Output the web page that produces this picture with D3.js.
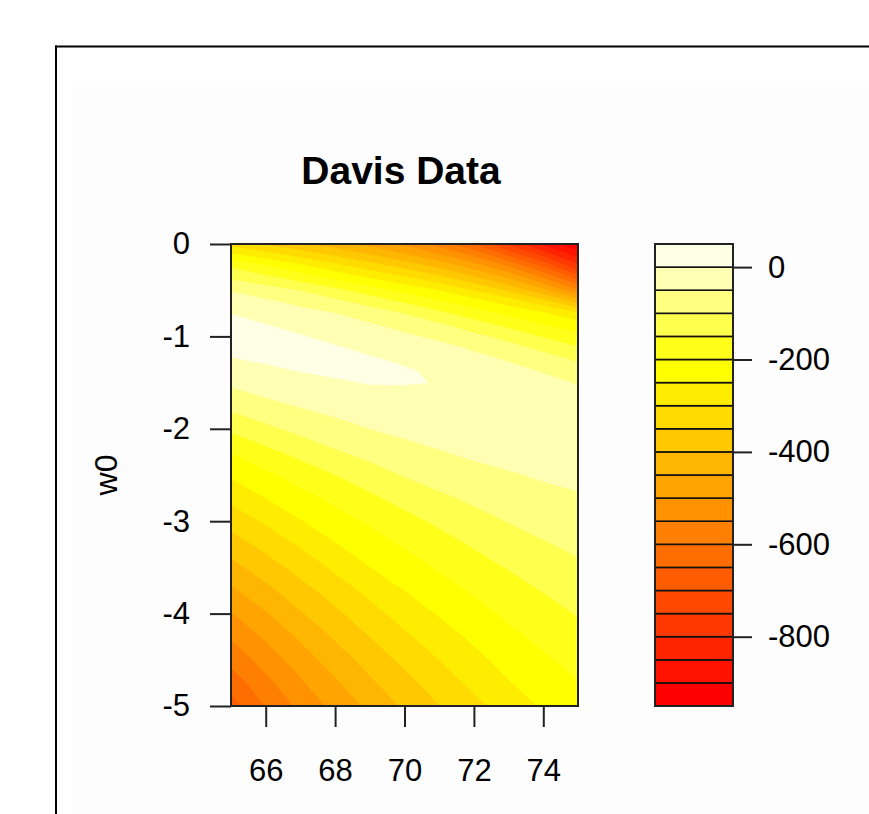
<!DOCTYPE html>
<html><head><meta charset="utf-8">
<script src="https://cdn.jsdelivr.net/npm/d3@7"></script>
<style>
body{margin:0;background:#fff}
svg{display:block}
text{font-family:"Liberation Sans",Arial,Helvetica,sans-serif;fill:#000}
</style>
</head><body>
<svg id="c" width="869" height="814"></svg>
<script>
// ---- data ----
const xValues = [65, 66, 67, 68, 69, 70, 71, 72, 73, 74, 75];
const yValues = [0, -0.25, -0.5, -0.625, -0.75, -0.875, -1, -1.125, -1.25, -1.375, -1.5,
                 -1.625, -1.75, -2, -2.25, -2.5, -2.75, -3, -3.25, -3.5, -3.75, -4,
                 -4.25, -4.5, -4.75, -5];
// z values: one row per yValues entry, one column per xValues entry
const zRows = [
  [-317, -358, -394, -429, -468, -514, -572, -650, -765, -865, -945],
  [-154, -189, -234, -278, -321, -361, -408, -468, -545, -650, -780],
  [ -53,  -78, -103, -138, -176, -215, -253, -303, -360, -440, -545],
  [ -26,  -42,  -62,  -88, -119, -156, -193, -230, -272, -330, -415],
  [  -1,  -20,  -36,  -50,  -76, -102, -140, -177, -212, -245, -292],
  [  11,    1,  -16,  -31,  -45,  -68,  -93, -128, -164, -198, -229],
  [  15,   12,    3,  -12,  -27,  -42,  -61,  -87, -118, -154, -187],
  [  10,   14,   11,    4,   -9,  -24,  -35,  -56,  -83, -112, -146],
  [  -3,    6,   11,   10,    4,   -6,  -18,  -36,  -54,  -80, -107],
  [ -22,  -10,    1,    7,    7,    4,   -7,  -22,  -36,  -53,  -79],
  [ -42,  -27,  -15,   -5,    2,    2,   -1,  -12,  -25,  -38,  -53],
  [ -63,  -44,  -31,  -19,  -11,   -8,   -2,   -8,  -17,  -27,  -39],
  [ -86,  -65,  -47,  -34,  -24,  -18,   -5,   -7,  -13,  -20,  -30],
  [-141, -111,  -86,  -67,  -50,  -39,  -23,  -17,  -15,  -16,  -21],
  [-199, -164, -134, -105,  -84,  -65,  -53,  -40,  -30,  -25,  -22],
  [-243, -211, -179, -151, -122,  -97,  -80,  -66,  -55,  -44,  -35],
  [-288, -250, -218, -188, -160, -133, -109,  -91,  -76,  -65,  -56],
  [-331, -293, -253, -221, -193, -166, -141, -117,  -98,  -84,  -73],
  [-374, -334, -294, -253, -222, -195, -169, -145, -123, -104,  -90],
  [-417, -374, -332, -291, -251, -223, -195, -170, -147, -126, -108],
  [-460, -414, -369, -327, -286, -250, -221, -194, -169, -148, -128],
  [-503, -454, -405, -361, -319, -279, -246, -217, -191, -168, -147],
  [-544, -492, -442, -394, -350, -309, -273, -241, -212, -188, -166],
  [-587, -529, -475, -426, -380, -338, -300, -264, -232, -207, -184],
  [-629, -565, -507, -458, -409, -366, -326, -288, -253, -225, -202],
  [-672, -597, -538, -485, -438, -392, -351, -314, -277, -244, -221]
];
const levels = [-950, -900, -850, -800, -750, -700, -650, -600, -550, -500, -450,
                -400, -350, -300, -250, -200, -150, -100, -50, 0, 50];
const xTicks = [66, 68, 70, 72, 74];
const yTicks = [0, -1, -2, -3, -4, -5];
const keyTicks = [0, -200, -400, -600, -800];
const title = "Davis Data";
const yLabel = "w0";

// heat.colors(20)
const palette = ["#FF0000","#FF1200","#FF2400","#FF3700","#FF4900","#FF5B00","#FF6D00",
  "#FF8000","#FF9200","#FFA400","#FFB600","#FFC800","#FFDB00","#FFED00","#FFFF00",
  "#FFFF1A","#FFFF4D","#FFFF80","#FFFFB3","#FFFFE6"];

// ---- layout ----
const svg = d3.select("#c");
const P = {l: 231, r: 578, t: 244, b: 706};
const K = {l: 655, r: 733};

// frame
svg.append("rect").attr("x", 73).attr("y", 87).attr("width", 869).attr("height", 814).attr("fill", "#fdfdfd");
svg.append("line").attr("x1", 55).attr("x2", 869).attr("y1", 46.5).attr("y2", 46.5).attr("stroke", "#000").attr("stroke-width", 2);
svg.append("line").attr("x1", 56).attr("x2", 56).attr("y1", 45.5).attr("y2", 814).attr("stroke", "#000").attr("stroke-width", 2);

const x = d3.scaleLinear().domain([65, 75]).range([P.l, P.r]);
const y = d3.scaleLinear().domain([-5, 0]).range([P.b, P.t]);

const nx = xValues.length, ny = yValues.length;
// grid index -> data position (grid values sit at index + 0.5 in d3.contours space)
const gx = d3.scaleLinear().domain(xValues.map((d, i) => i + 0.5)).range(xValues.map(x));
const gy = d3.scaleLinear().domain(yValues.map((d, i) => i + 0.5)).range(yValues.map(y));
const proj = d3.geoTransform({point(px, py) { this.stream.point(gx(px), gy(py)); }});
const path = d3.geoPath(proj);

const flat = zRows.flat();
const bands = d3.contours().size([nx, ny]).thresholds(levels.slice(0, -1))(flat);

svg.append("clipPath").attr("id", "clip").append("rect")
  .attr("x", P.l).attr("y", P.t).attr("width", P.r - P.l).attr("height", P.b - P.t);

svg.append("g").attr("clip-path", "url(#clip)")
  .selectAll("path").data(bands).join("path")
  .attr("d", path)
  .attr("fill", (d) => palette[levels.indexOf(d.value)])
  .attr("stroke", (d) => palette[levels.indexOf(d.value)])
  .attr("stroke-width", 0.6);

svg.append("rect").attr("x", P.l).attr("y", P.t).attr("width", P.r - P.l).attr("height", P.b - P.t)
  .attr("fill", "none").attr("stroke", "#222").attr("stroke-width", 2);

// axes
const fmt = (d) => String(d);
const xAxis = svg.append("g").attr("transform", `translate(0,${P.b})`)
  .call(d3.axisBottom(x).tickValues(xTicks).tickSize(21).tickPadding(32).tickFormat(fmt));
const yAxis = svg.append("g").attr("transform", `translate(${P.l},0)`)
  .call(d3.axisLeft(y).tickValues(yTicks).tickSize(21).tickPadding(20).tickFormat(fmt));
[xAxis, yAxis].forEach(g => {
  g.select(".domain").remove();
  g.selectAll(".tick line").attr("stroke", "#222").attr("stroke-width", 2);
  g.selectAll("text").attr("font-size", 31).attr("fill", "#111");
});

// title and label
svg.append("text").attr("x", 401).attr("y", 184).attr("text-anchor", "middle")
  .attr("font-size", 39).attr("font-weight", "bold").text(title);
svg.append("text").attr("transform", `translate(117,${(P.t + P.b) / 2}) rotate(-90)`)
  .attr("text-anchor", "middle").attr("font-size", 32).attr("fill", "#111").text(yLabel);

// colour key
const ky = d3.scaleLinear().domain([levels[0], levels[levels.length - 1]]).range([P.b, P.t]);
svg.append("g").selectAll("rect").data(levels.slice(0, -1)).join("rect")
  .attr("x", K.l).attr("width", K.r - K.l)
  .attr("y", (d, i) => ky(levels[i + 1]))
  .attr("height", (d, i) => ky(d) - ky(levels[i + 1]))
  .attr("fill", (d, i) => palette[i])
  .attr("stroke", "#111").attr("stroke-width", 1.6);
svg.append("rect").attr("x", K.l).attr("y", P.t).attr("width", K.r - K.l).attr("height", P.b - P.t)
  .attr("fill", "none").attr("stroke", "#222").attr("stroke-width", 2);
const kAxis = svg.append("g").attr("transform", `translate(${K.r},0)`)
  .call(d3.axisRight(ky).tickValues(keyTicks).tickSize(19).tickPadding(16).tickFormat(fmt));
kAxis.select(".domain").remove();
kAxis.selectAll(".tick line").attr("stroke", "#222").attr("stroke-width", 2);
kAxis.selectAll("text").attr("font-size", 31).attr("fill", "#111");
</script>
</body></html>
